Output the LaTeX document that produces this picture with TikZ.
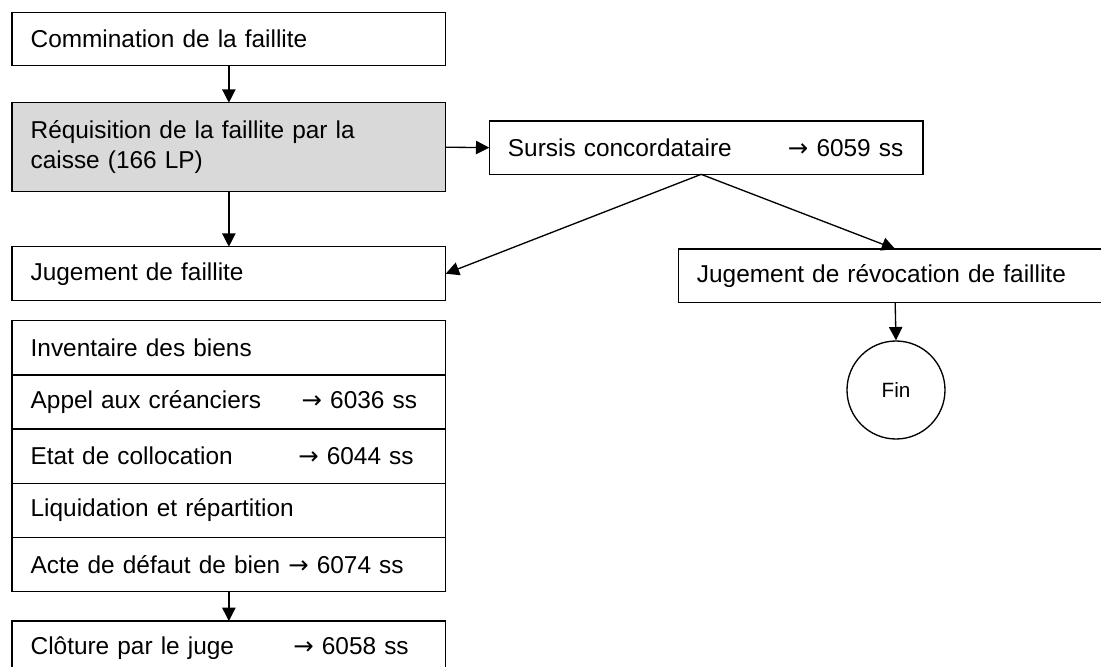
\documentclass[tikz,border=0pt]{standalone}
\usepackage{fontspec}
\setmainfont{Liberation Sans}
\newfontfamily\arrowfont{DejaVu Sans}
\usetikzlibrary{positioning,arrows.meta}
\definecolor{caissegray}{RGB}{217,217,217}
\newcommand{\reftab}[3]{\mbox{\makebox[#1][l]{#2}{\arrowfont →} #3}}

\begin{document}
\begin{tikzpicture}[x=0.75pt,y=0.75pt,yscale=-1,xscale=1,
  every node/.style={font=\fontsize{18.3pt}{22pt}\selectfont},
  stepbox/.style={draw, line width=1pt, rectangle, anchor=north west, outer sep=0pt, inner xsep=14pt, text width=297.3pt, align=left, minimum height=40.5pt},
  rowbox/.style={stepbox, minimum height=40.65pt},
  flow/.style={-{Triangle[length=10pt,width=10pt]}, line width=1pt}]
\useasboundingbox (0,0) rectangle (1101,667);
\clip (0,0) rectangle (1101,667);

% left column
\node[stepbox, minimum height=39.75pt] (commination) at (12,12.7) {Commination de la faillite};
\node[stepbox, fill=caissegray, minimum height=66.75pt] (requisition) at (12,102.7) {R\'equisition de la faillite par la\\caisse (166 LP)};
\node[stepbox] (jugement) at (12,246.7) {Jugement de faillite};

% liquidation steps
\node[rowbox] (inventaire) at (12,320.7) {Inventaire des biens};
\node[rowbox, below=0pt of inventaire] (appel) {\reftab{203.25pt}{Appel aux cr\'eanciers}{6036 ss}};
\node[rowbox, below=0pt of appel] (etat) {\reftab{200.7pt}{Etat de collocation}{6044 ss}};
\node[rowbox, below=0pt of etat] (liquidation) {Liquidation et r\'epartition};
\node[rowbox, below=0pt of liquidation] (acte) {\reftab{193.2pt}{Acte de d\'efaut de bien}{6074 ss}};
\node[stepbox] (cloture) at (12,621) {\reftab{197pt}{Cl\^oture par le juge}{6058 ss}};

% right side
\node[stepbox, minimum height=40pt] (sursis) at (489.3,121) {\reftab{210pt}{Sursis concordataire}{6059 ss}};
\node[stepbox, minimum height=40pt] (revocation) at (678.3,249) {Jugement de r\'evocation de faillite};
\node[draw, circle, line width=1pt, minimum size=73.5pt, inner sep=0pt, font=\fontsize{15.5pt}{18pt}\selectfont] (fin) at (896,390) {Fin};

\coordinate (split) at ([xshift=-3.75pt]sursis.south);

% arrows
\draw[flow] (commination.south) -- (requisition.north);
\draw[flow] (requisition.south) -- (jugement.north);
\draw[flow] (requisition.east) -- (sursis.west);
\draw[flow] (split) -- (jugement.east);
\draw[flow] (split) -- (revocation.north);
\draw[flow] (revocation.south) -- (fin.north);
\draw[flow] (acte.south) -- (cloture.north);
\end{tikzpicture}
\end{document}
